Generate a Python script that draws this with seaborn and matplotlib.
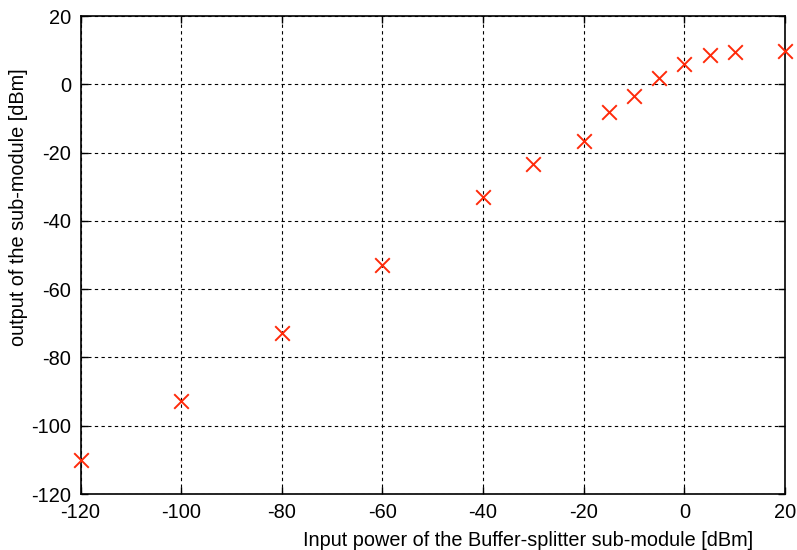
import matplotlib
matplotlib.use("Agg")
import matplotlib.pyplot as plt
import seaborn as sns
import pandas as pd

# Measured transfer characteristic of the buffer-splitter sub-module
input_power = [-120, -100, -80, -60, -40, -30, -20, -15, -10, -5, 0, 5, 10, 20]
output_power = [-110.0, -92.8, -72.9, -53.0, -33.0, -23.4, -16.6, -8.1, -3.5, 1.8, 5.9, 8.6, 9.4, 9.7]
x_ticks = [-120, -100, -80, -60, -40, -20, 0, 20]
y_ticks = [-120, -100, -80, -60, -40, -20, 0, 20]

df = pd.DataFrame({"pin": input_power, "pout": output_power})

sns.set_style("ticks")
plt.rcParams["font.family"] = ["Liberation Sans", "DejaVu Sans"]
plt.rcParams["axes.unicode_minus"] = False
plt.rcParams["text.color"] = "black"
plt.rcParams["axes.labelcolor"] = "black"
plt.rcParams["xtick.color"] = "black"
plt.rcParams["ytick.color"] = "black"

fig = plt.figure(figsize=(7.97, 5.5), dpi=100)
ax = fig.add_axes([80.5 / 797, 1 - 494 / 550, (785 - 80.5) / 797, (494 - 16) / 550])

sns.scatterplot(data=df, x="pin", y="pout", ax=ax, marker="x", color="#ff2a0a",
                s=110, linewidth=1.4, zorder=5, clip_on=False, legend=False)

ax.set_xlim(-120, 20)
ax.set_ylim(-120, 20)
ax.set_xticks(x_ticks)
ax.set_yticks(y_ticks)
ax.tick_params(direction="in", length=5, width=1, labelsize=14.4, top=True, right=True, pad=6.5)
ax.grid(True, color="black", linestyle=(0, (3, 3)), linewidth=0.8)
for sp in ax.spines.values():
    sp.set_visible(True)
    sp.set_linewidth(1.2)
    sp.set_color("black")

ax.set_xlabel("Input power of the Buffer-splitter sub-module [dBm]", fontsize=14.3)
ax.set_ylabel("output of the sub-module [dBm]", fontsize=14.3)
ax.xaxis.set_label_coords(0.635, -0.077)
ax.yaxis.set_label_coords(-0.074, 0.600)

fig.savefig("out.png", dpi=100)
